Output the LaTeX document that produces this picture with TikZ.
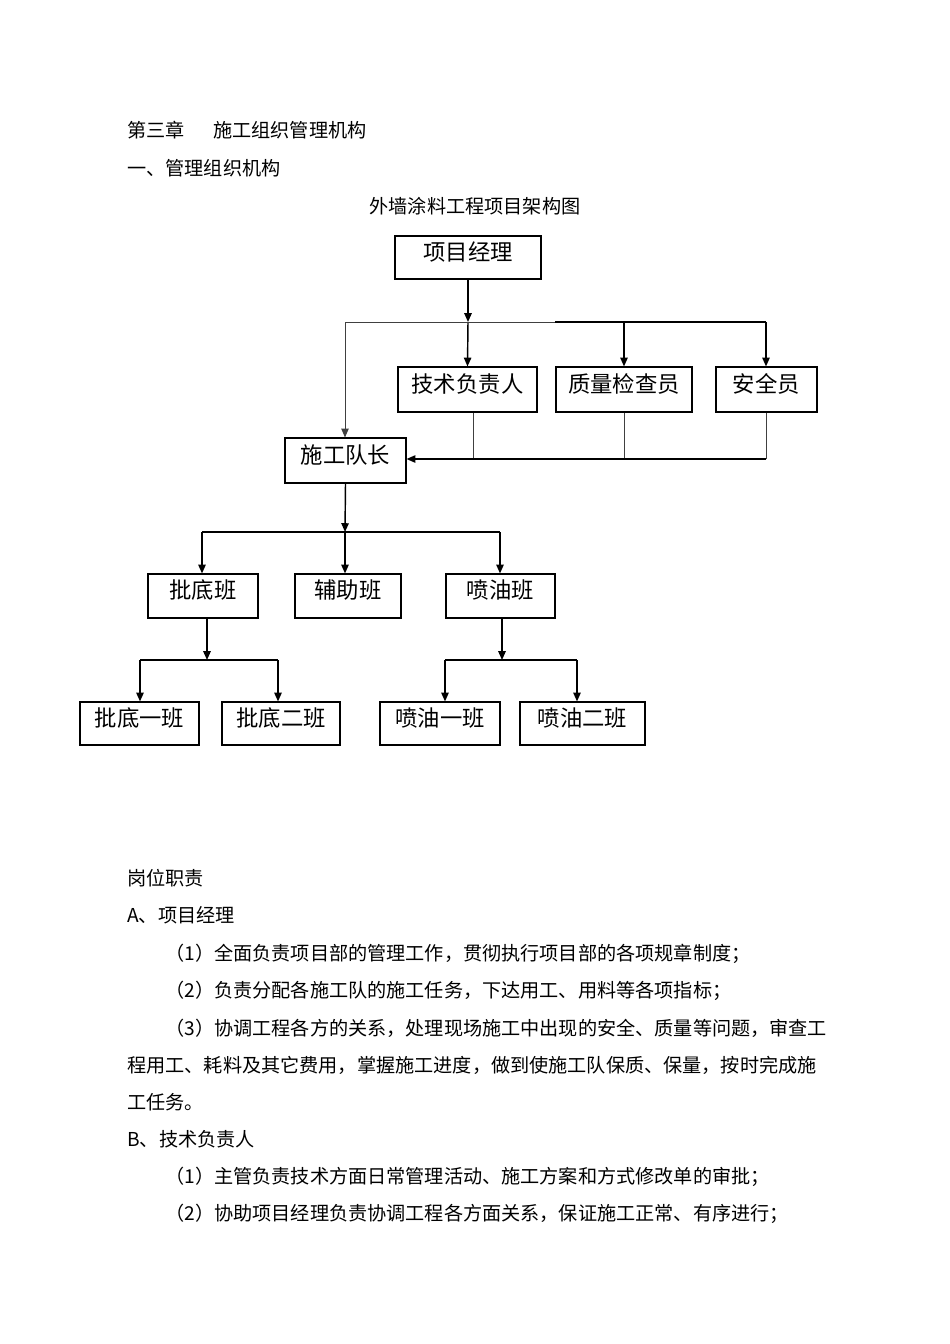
\documentclass[tikz,border=0pt]{standalone}
\usepackage{fontspec}
\setmainfont{Noto Sans CJK SC}
\usetikzlibrary{arrows.meta}
\newcommand\orgnode[6]{\node[orgbox, minimum width=#4*0.6266pt, minimum height=#5*0.6266pt] (#1) at (#2,#3) {#6};}
\begin{document}
\begin{tikzpicture}[x=0.6266pt,y=-0.6266pt,
  every node/.style={inner sep=0pt},
  txt/.style={font=\fontsize{12pt}{14pt}\selectfont, anchor=base west},
  orgbox/.style={draw, line width=0.7pt, font=\fontsize{14pt}{16pt}\selectfont, text height=0.8em, text depth=0.48em},
  arr/.style={line width=0.9pt, -{Triangle[length=5.5pt,width=4.6pt]}},
  thinarr/.style={line width=0.6pt, black!75, -{Triangle[length=5.5pt,width=4.6pt]}},
  thinln/.style={line width=0.6pt, black!75},
  thickln/.style={line width=0.9pt}]
\fill[white] (0,0) rectangle (950,1344);
\useasboundingbox (0,0) rectangle (950,1344);

% headings
\node[txt] (h1) at (127,137.3) {第三章};
\node[txt] (h2) at (213,137.3) {施工组织管理机构};
\node[txt] (h3) at (127,175.3) {一、管理组织机构};
\node[txt, anchor=base] (title) at (475,213.3) {外墙涂料工程项目架构图};

% boxes
\orgnode{pm}{468}{257.5}{146}{43}{项目经理}
\orgnode{tech}{467.5}{389.5}{139}{45}{技术负责人}
\orgnode{qc}{624}{389.5}{136}{45}{质量检查员}
\orgnode{safe}{766.5}{389.5}{101}{45}{安全员}
\orgnode{lead}{345.5}{460.5}{121}{45}{施工队长}
\orgnode{b1}{203}{596}{110}{44}{批底班}
\orgnode{b2}{348}{596}{106}{44}{辅助班}
\orgnode{b3}{500.5}{596}{109}{44}{喷油班}
\orgnode{c1}{139.5}{723.5}{119}{43}{批底一班}
\orgnode{c2}{281}{723.5}{118}{43}{批底二班}
\orgnode{c3}{440}{723.5}{120}{43}{喷油一班}
\orgnode{c4}{582.5}{723.5}{125}{43}{喷油二班}

% top level connectors
\coordinate (j1) at (468,322);
\coordinate (jl) at (345,322);
\coordinate (jm) at (555,322);
\coordinate (jq) at (624,322);
\coordinate (jr) at (766,322);
\draw[arr] (pm.south) -- (j1);
\draw[arr] (j1) -- (tech.north);
\draw[thinln] (jl) -- (jm);
\draw[thickln] (jm) -- (jr);
\draw[thinarr] (jl) -- (jl |- lead.north);
\draw[arr] (jq) -- (qc.north);
\draw[arr] (jr) -- (jr |- safe.north);

% feedback to leader
\coordinate (f1) at (473,459);
\coordinate (f2) at (624,459);
\coordinate (f3) at (766,459);
\draw[thinln] (f1 |- tech.south) -- (f1);
\draw[thinln] (f2 |- qc.south) -- (f2);
\draw[thinln] (f3 |- safe.south) -- (f3);
\draw[arr] (f3) -- (lead.east |- f3);

% second level
\coordinate (j2) at (345,532);
\coordinate (j2l) at (202,532);
\coordinate (j2r) at (500,532);
\draw[arr] (lead.south) -- (j2);
\draw[thickln] (j2l) -- (j2r);
\draw[arr] (j2l) -- (j2l |- b1.north);
\draw[arr] (j2) -- (j2 |- b2.north);
\draw[arr] (j2r) -- (j2r |- b3.north);

% third level left
\coordinate (j3) at (207,660);
\coordinate (j3l) at (140,660);
\coordinate (j3r) at (278,660);
\draw[arr] (j3 |- b1.south) -- (j3);
\draw[thickln] (j3l) -- (j3r);
\draw[arr] (j3l) -- (j3l |- c1.north);
\draw[arr] (j3r) -- (j3r |- c2.north);

% third level right
\coordinate (j4) at (502,660);
\coordinate (j4l) at (445,660);
\coordinate (j4r) at (577,660);
\draw[arr] (j4 |- b3.south) -- (j4);
\draw[thickln] (j4l) -- (j4r);
\draw[arr] (j4l) -- (j4l |- c3.north);
\draw[arr] (j4r) -- (j4r |- c4.north);

% body text
\node[txt] (p1) at (127,885.3) {岗位职责};
\node[txt] (p2) at (127,922.3) {A、项目经理};
\node[txt] (p3) at (165,960.3) {（1）全面负责项目部的管理工作，贯彻执行项目部的各项规章制度；};
\node[txt] (p4) at (165,997.3) {（2）负责分配各施工队的施工任务，下达用工、用料等各项指标；};
\node[txt] (p5) at (165,1035.3) {（3）协调工程各方的关系，处理现场施工中出现的安全、质量等问题，审查工};
\node[txt] (p6) at (127,1072.3) {程用工、耗料及其它费用，掌握施工进度，做到使施工队保质、保量，按时完成施};
\node[txt] (p7) at (127,1109.3) {工任务。};
\node[txt] (p8) at (127,1146.3) {B、技术负责人};
\node[txt] (p9) at (165,1183.3) {（1）主管负责技术方面日常管理活动、施工方案和方式修改单的审批；};
\node[txt] (p10) at (165,1220.3) {（2）协助项目经理负责协调工程各方面关系，保证施工正常、有序进行；};
\end{tikzpicture}
\end{document}
